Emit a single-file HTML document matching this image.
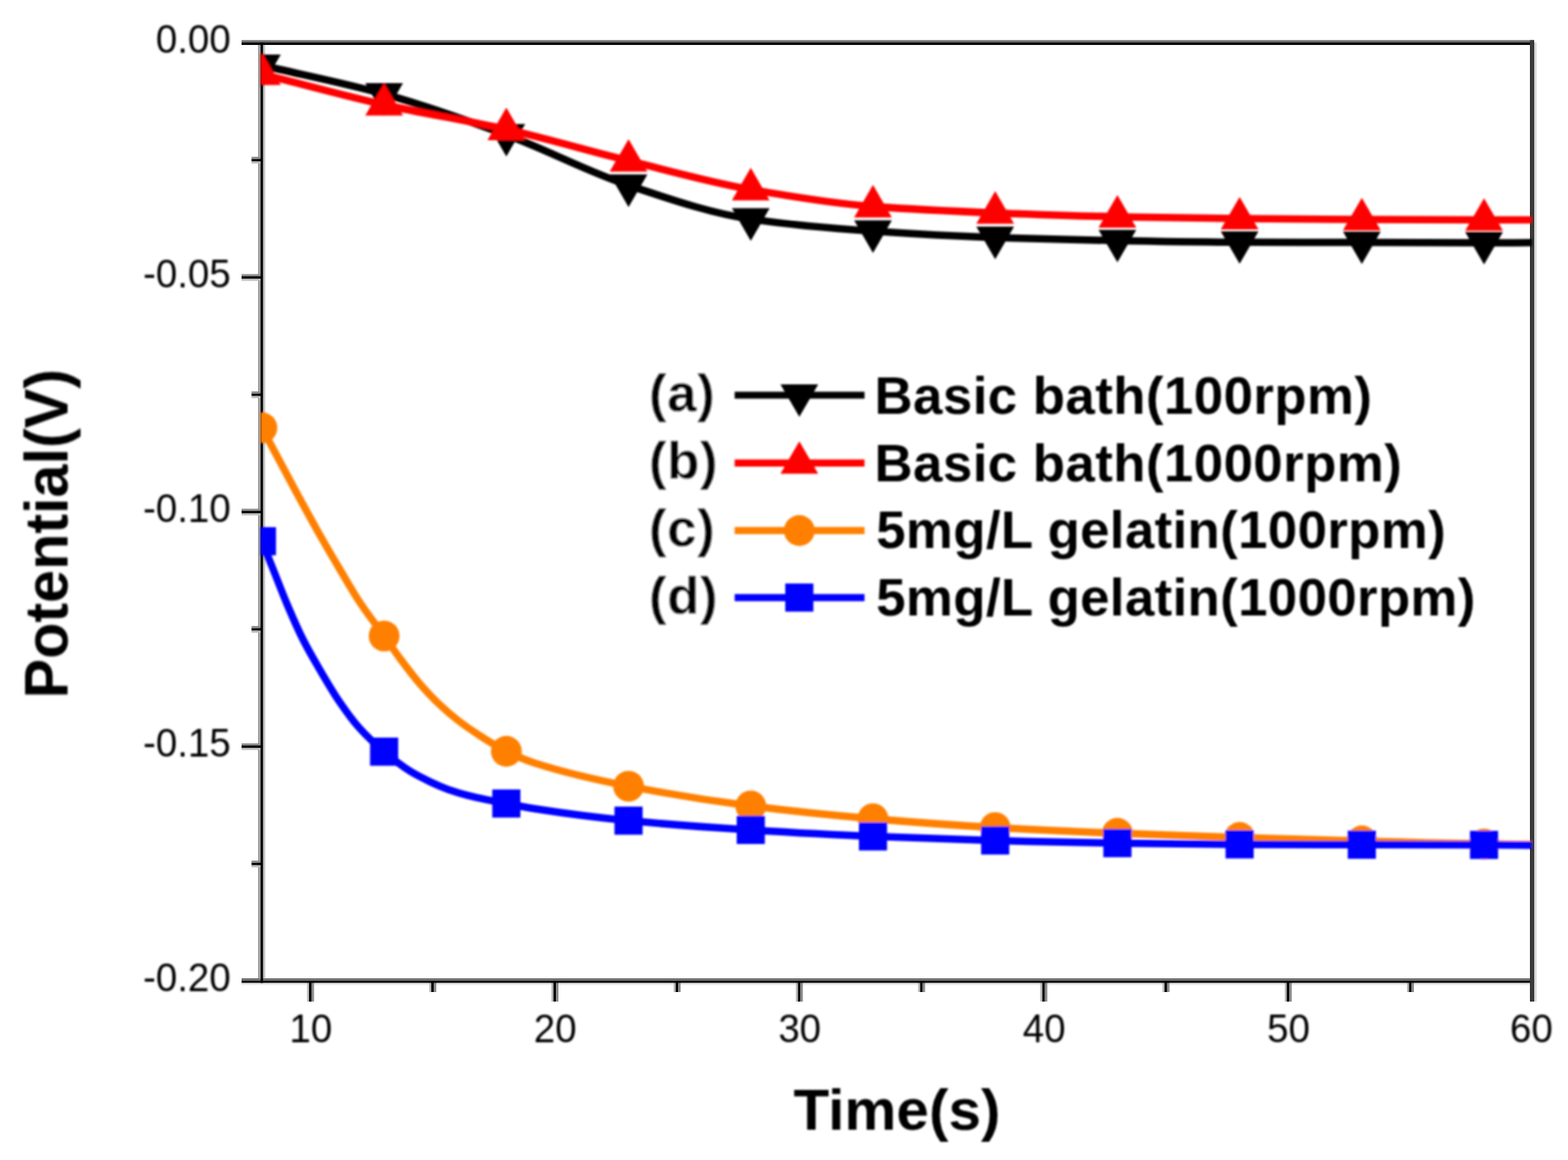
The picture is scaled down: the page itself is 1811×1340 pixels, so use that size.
<!DOCTYPE html>
<html lang="en">
<head>
<meta charset="utf-8">
<title>Potential vs Time</title>
<style>
html,body{margin:0;padding:0;background:#fff;}
body{width:1811px;height:1340px;overflow:hidden;position:relative;}
svg{display:block;position:absolute;left:0;top:0;}
text{font-family:"Liberation Sans",sans-serif;fill:#000;}
.tick{font-size:45.6px;}
.title{font-size:67.5px;font-weight:bold;}
.leg{font-size:61px;font-weight:bold;letter-spacing:0.5px;}
.key{font-size:61px;font-weight:bold;stroke:#fff;stroke-width:0.35px;stroke-linejoin:round;letter-spacing:0.7px;}
</style>
</head>
<body>
<svg width="1811" height="1340" viewBox="0 0 1811 1340">
<defs>
<clipPath id="plotclip"><rect x="301" y="47" width="1468.3" height="1086"/></clipPath>
<filter id="softt" x="-5%" y="-30%" width="110%" height="160%"><feGaussianBlur stdDeviation="0.9"/></filter>
<filter id="soft" x="-2%" y="-2%" width="104%" height="104%"><feGaussianBlur stdDeviation="1.1"/></filter>
</defs>
<rect x="0" y="0" width="1811" height="1340" fill="#ffffff"/>

<g shape-rendering="geometricPrecision">
<rect x="279.00" y="46.40" width="1493.00" height="2.70" fill="#6e6e6e"/>
<rect x="279.00" y="1130.10" width="1493.00" height="2.90" fill="#6e6e6e"/>
<rect x="279.00" y="1135.40" width="1488.00" height="2.60" fill="#ebebeb"/>
<rect x="298.00" y="51.90" width="3.00" height="1078.20" fill="#a0a0a0"/>
<rect x="303.80" y="51.90" width="2.50" height="1078.20" fill="#c2c2c2"/>
<rect x="1772.00" y="49.00" width="2.60" height="1108.00" fill="#d6d6d6"/>
<rect x="279.00" y="316.65" width="22.00" height="2.50" fill="#8c8c8c"/>
<rect x="279.00" y="321.85" width="22.00" height="2.50" fill="#bcbcbc"/>
<rect x="279.00" y="587.65" width="22.00" height="2.50" fill="#8c8c8c"/>
<rect x="279.00" y="592.85" width="22.00" height="2.50" fill="#bcbcbc"/>
<rect x="279.00" y="858.65" width="22.00" height="2.50" fill="#8c8c8c"/>
<rect x="279.00" y="863.85" width="22.00" height="2.50" fill="#bcbcbc"/>
<rect x="290.50" y="181.15" width="10.50" height="2.50" fill="#8c8c8c"/>
<rect x="290.50" y="186.35" width="10.50" height="2.50" fill="#bcbcbc"/>
<rect x="290.50" y="452.15" width="10.50" height="2.50" fill="#8c8c8c"/>
<rect x="290.50" y="457.35" width="10.50" height="2.50" fill="#bcbcbc"/>
<rect x="290.50" y="723.15" width="10.50" height="2.50" fill="#8c8c8c"/>
<rect x="290.50" y="728.35" width="10.50" height="2.50" fill="#bcbcbc"/>
<rect x="290.50" y="994.15" width="10.50" height="2.50" fill="#8c8c8c"/>
<rect x="290.50" y="999.35" width="10.50" height="2.50" fill="#bcbcbc"/>
<rect x="354.66" y="1135.00" width="2.30" height="22.00" fill="#b8b8b8"/>
<rect x="359.76" y="1135.00" width="2.90" height="22.00" fill="#8a8a8a"/>
<rect x="636.97" y="1135.00" width="2.30" height="22.00" fill="#b8b8b8"/>
<rect x="642.07" y="1135.00" width="2.90" height="22.00" fill="#8a8a8a"/>
<rect x="919.28" y="1135.00" width="2.30" height="22.00" fill="#b8b8b8"/>
<rect x="924.38" y="1135.00" width="2.90" height="22.00" fill="#8a8a8a"/>
<rect x="1201.58" y="1135.00" width="2.30" height="22.00" fill="#b8b8b8"/>
<rect x="1206.68" y="1135.00" width="2.90" height="22.00" fill="#8a8a8a"/>
<rect x="1483.89" y="1135.00" width="2.30" height="22.00" fill="#b8b8b8"/>
<rect x="1488.99" y="1135.00" width="2.90" height="22.00" fill="#8a8a8a"/>
<rect x="495.82" y="1135.00" width="2.30" height="11.00" fill="#b8b8b8"/>
<rect x="500.92" y="1135.00" width="2.90" height="11.00" fill="#8a8a8a"/>
<rect x="778.12" y="1135.00" width="2.30" height="11.00" fill="#b8b8b8"/>
<rect x="783.22" y="1135.00" width="2.90" height="11.00" fill="#8a8a8a"/>
<rect x="1060.43" y="1135.00" width="2.30" height="11.00" fill="#b8b8b8"/>
<rect x="1065.53" y="1135.00" width="2.90" height="11.00" fill="#8a8a8a"/>
<rect x="1342.74" y="1135.00" width="2.30" height="11.00" fill="#b8b8b8"/>
<rect x="1347.84" y="1135.00" width="2.90" height="11.00" fill="#8a8a8a"/>
<rect x="1625.05" y="1135.00" width="2.30" height="11.00" fill="#b8b8b8"/>
<rect x="1630.15" y="1135.00" width="2.90" height="11.00" fill="#8a8a8a"/>
<rect x="279.00" y="49.10" width="1493.00" height="2.80" fill="#000000"/>
<rect x="279.00" y="1133.00" width="1493.00" height="2.40" fill="#000000"/>
<rect x="301.00" y="49.10" width="2.80" height="1086.30" fill="#000000"/>
<rect x="1767.00" y="46.40" width="5.00" height="1110.60" fill="#3a3a3a"/>
<rect x="279.00" y="319.15" width="22.00" height="2.70" fill="#000000"/>
<rect x="279.00" y="590.15" width="22.00" height="2.70" fill="#000000"/>
<rect x="279.00" y="861.15" width="22.00" height="2.70" fill="#000000"/>
<rect x="290.50" y="183.65" width="10.50" height="2.70" fill="#000000"/>
<rect x="290.50" y="454.65" width="10.50" height="2.70" fill="#000000"/>
<rect x="290.50" y="725.65" width="10.50" height="2.70" fill="#000000"/>
<rect x="290.50" y="996.65" width="10.50" height="2.70" fill="#000000"/>
<rect x="356.96" y="1135.00" width="2.80" height="22.00" fill="#000000"/>
<rect x="639.27" y="1135.00" width="2.80" height="22.00" fill="#000000"/>
<rect x="921.58" y="1135.00" width="2.80" height="22.00" fill="#000000"/>
<rect x="1203.88" y="1135.00" width="2.80" height="22.00" fill="#000000"/>
<rect x="1486.19" y="1135.00" width="2.80" height="22.00" fill="#000000"/>
<rect x="498.12" y="1135.00" width="2.80" height="11.00" fill="#000000"/>
<rect x="780.42" y="1135.00" width="2.80" height="11.00" fill="#000000"/>
<rect x="1062.73" y="1135.00" width="2.80" height="11.00" fill="#000000"/>
<rect x="1345.04" y="1135.00" width="2.80" height="11.00" fill="#000000"/>
<rect x="1627.35" y="1135.00" width="2.80" height="11.00" fill="#000000"/>
</g>
<g filter="url(#soft)">
<g clip-path="url(#plotclip)">
<path d="M302.50,75.50 C349.55,86.53 396.60,95.63 443.65,108.60 C490.71,121.57 537.76,138.41 584.81,155.80 C631.86,173.19 678.91,198.52 725.96,214.10 C773.01,229.68 820.06,246.23 867.12,253.10 C914.17,259.97 961.22,263.90 1008.27,267.10 C1055.32,270.30 1102.37,272.79 1149.42,274.40 C1196.47,276.01 1243.53,277.20 1290.58,278.00 C1337.63,278.80 1384.68,279.68 1431.73,279.80 C1478.78,279.92 1525.83,279.90 1572.88,280.00 C1619.94,280.10 1666.99,280.50 1714.04,280.50 C1732.86,280.50 1751.68,280.37 1770.50,280.30" fill="none" stroke="#000000" stroke-width="8.5" stroke-linejoin="round"/>
<path d="M280.70,62.97 L324.30,62.97 L302.50,100.57 Z" fill="#000000"/>
<path d="M421.85,96.07 L465.45,96.07 L443.65,133.67 Z" fill="#000000"/>
<path d="M563.01,143.27 L606.61,143.27 L584.81,180.87 Z" fill="#000000"/>
<path d="M704.16,201.57 L747.76,201.57 L725.96,239.17 Z" fill="#000000"/>
<path d="M845.32,240.57 L888.92,240.57 L867.12,278.17 Z" fill="#000000"/>
<path d="M986.47,254.57 L1030.07,254.57 L1008.27,292.17 Z" fill="#000000"/>
<path d="M1127.62,261.87 L1171.22,261.87 L1149.42,299.47 Z" fill="#000000"/>
<path d="M1268.78,265.47 L1312.38,265.47 L1290.58,303.07 Z" fill="#000000"/>
<path d="M1409.93,267.27 L1453.53,267.27 L1431.73,304.87 Z" fill="#000000"/>
<path d="M1551.08,267.47 L1594.68,267.47 L1572.88,305.07 Z" fill="#000000"/>
<path d="M1692.24,267.97 L1735.84,267.97 L1714.04,305.57 Z" fill="#000000"/>
<path d="M302.50,85.60 C349.55,97.40 396.60,110.49 443.65,121.00 C490.71,131.51 537.76,138.78 584.81,149.40 C631.86,160.02 678.91,174.14 725.96,185.70 C773.01,197.26 820.06,210.66 867.12,218.90 C914.17,227.14 961.22,235.05 1008.27,238.60 C1055.32,242.15 1102.37,244.04 1149.42,245.90 C1196.47,247.76 1243.53,249.45 1290.58,250.40 C1337.63,251.35 1384.68,252.05 1431.73,252.50 C1478.78,252.95 1525.83,253.28 1572.88,253.50 C1619.94,253.72 1666.99,254.00 1714.04,254.00 C1732.86,254.00 1751.68,254.00 1770.50,254.00" fill="none" stroke="#ff0000" stroke-width="8.5" stroke-linejoin="round"/>
<path d="M280.70,98.13 L324.30,98.13 L302.50,60.53 Z" fill="#ff0000"/>
<path d="M421.85,133.53 L465.45,133.53 L443.65,95.93 Z" fill="#ff0000"/>
<path d="M563.01,161.93 L606.61,161.93 L584.81,124.33 Z" fill="#ff0000"/>
<path d="M704.16,198.23 L747.76,198.23 L725.96,160.63 Z" fill="#ff0000"/>
<path d="M845.32,231.43 L888.92,231.43 L867.12,193.83 Z" fill="#ff0000"/>
<path d="M986.47,251.13 L1030.07,251.13 L1008.27,213.53 Z" fill="#ff0000"/>
<path d="M1127.62,258.43 L1171.22,258.43 L1149.42,220.83 Z" fill="#ff0000"/>
<path d="M1268.78,262.93 L1312.38,262.93 L1290.58,225.33 Z" fill="#ff0000"/>
<path d="M1409.93,265.03 L1453.53,265.03 L1431.73,227.43 Z" fill="#ff0000"/>
<path d="M1551.08,266.03 L1594.68,266.03 L1572.88,228.43 Z" fill="#ff0000"/>
<path d="M1692.24,266.53 L1735.84,266.53 L1714.04,228.93 Z" fill="#ff0000"/>
<path d="M302.50,494.10 C313.67,515.07 324.83,536.34 336.00,557.00 C347.33,577.97 358.67,598.99 370.00,619.00 C377.47,632.19 384.93,644.92 392.40,657.50 C400.17,670.59 407.93,684.27 415.70,696.00 C425.02,710.08 434.34,721.68 443.65,734.70 C450.14,743.76 456.62,753.43 463.10,762.10 C470.47,771.96 477.83,781.71 485.20,790.20 C492.57,798.69 499.93,806.52 507.30,813.50 C514.67,820.48 522.03,826.81 529.40,832.50 C536.77,838.19 544.13,843.22 551.50,848.00 C562.60,855.20 573.71,862.48 584.81,867.90 C595.77,873.26 606.74,877.95 617.70,881.50 C653.79,893.17 689.87,901.09 725.96,908.20 C773.01,917.47 820.06,925.02 867.12,931.00 C914.17,936.98 961.22,941.77 1008.27,945.80 C1055.32,949.83 1102.37,953.33 1149.42,956.00 C1196.47,958.67 1243.53,960.75 1290.58,962.60 C1337.63,964.45 1384.68,965.95 1431.73,967.40 C1478.78,968.85 1525.83,970.14 1572.88,971.40 C1619.94,972.66 1666.99,974.42 1714.04,975.00 C1732.86,975.23 1751.68,975.33 1770.50,975.50" fill="none" stroke="#ff8000" stroke-width="8.5" stroke-linejoin="round"/>
<circle cx="302.50" cy="494.10" r="17.8" fill="#ff8000"/>
<circle cx="443.65" cy="734.70" r="17.8" fill="#ff8000"/>
<circle cx="584.81" cy="867.90" r="17.8" fill="#ff8000"/>
<circle cx="725.96" cy="908.20" r="17.8" fill="#ff8000"/>
<circle cx="867.12" cy="931.00" r="17.8" fill="#ff8000"/>
<circle cx="1008.27" cy="945.80" r="17.8" fill="#ff8000"/>
<circle cx="1149.42" cy="956.00" r="17.8" fill="#ff8000"/>
<circle cx="1290.58" cy="962.60" r="17.8" fill="#ff8000"/>
<circle cx="1431.73" cy="967.40" r="17.8" fill="#ff8000"/>
<circle cx="1572.88" cy="971.40" r="17.8" fill="#ff8000"/>
<circle cx="1714.04" cy="975.00" r="17.8" fill="#ff8000"/>
<path d="M302.50,625.20 C307.10,636.73 311.70,648.29 316.30,659.80 C321.60,673.06 326.90,687.05 332.20,699.50 C338.00,713.12 343.80,726.47 349.60,738.00 C357.40,753.50 365.20,766.57 373.00,779.80 C379.13,790.20 385.27,800.60 391.40,809.60 C398.87,820.56 406.33,831.07 413.80,839.50 C423.75,850.73 433.70,859.90 443.65,868.30 C453.84,876.89 464.02,884.97 474.20,891.20 C481.57,895.71 488.93,899.33 496.30,902.80 C503.63,906.25 510.97,909.62 518.30,912.20 C525.67,914.79 533.03,916.90 540.40,918.80 C547.77,920.70 555.13,922.25 562.50,923.80 C569.94,925.37 577.37,926.78 584.81,928.20 C595.77,930.30 606.74,932.59 617.70,934.30 C653.79,939.92 689.87,944.54 725.96,948.00 C773.01,952.51 820.06,955.76 867.12,958.70 C914.17,961.64 961.22,964.27 1008.27,966.20 C1055.32,968.13 1102.37,969.65 1149.42,970.90 C1196.47,972.15 1243.53,973.36 1290.58,974.00 C1337.63,974.64 1384.68,975.19 1431.73,975.40 C1478.78,975.61 1525.83,975.71 1572.88,975.80 C1619.94,975.89 1666.99,975.87 1714.04,976.00 C1732.86,976.05 1751.68,976.33 1770.50,976.50" fill="none" stroke="#0000ff" stroke-width="8.5" stroke-linejoin="round"/>
<rect x="286.25" y="608.95" width="32.5" height="32.5" fill="#0000ff"/>
<rect x="427.40" y="852.05" width="32.5" height="32.5" fill="#0000ff"/>
<rect x="568.56" y="911.95" width="32.5" height="32.5" fill="#0000ff"/>
<rect x="709.71" y="931.75" width="32.5" height="32.5" fill="#0000ff"/>
<rect x="850.87" y="942.45" width="32.5" height="32.5" fill="#0000ff"/>
<rect x="992.02" y="949.95" width="32.5" height="32.5" fill="#0000ff"/>
<rect x="1133.17" y="954.65" width="32.5" height="32.5" fill="#0000ff"/>
<rect x="1274.33" y="957.75" width="32.5" height="32.5" fill="#0000ff"/>
<rect x="1415.48" y="959.15" width="32.5" height="32.5" fill="#0000ff"/>
<rect x="1556.63" y="959.55" width="32.5" height="32.5" fill="#0000ff"/>
<rect x="1697.79" y="959.75" width="32.5" height="32.5" fill="#0000ff"/>
</g>
<line x1="848.5" y1="456.5" x2="998.5" y2="456.5" stroke="#000000" stroke-width="8.2" stroke-linecap="butt"/>
<path d="M901.40,443.97 L945.00,443.97 L923.20,481.57 Z" fill="#000000"/>
<line x1="848.5" y1="534.8" x2="998.5" y2="534.8" stroke="#ff0000" stroke-width="8.2" stroke-linecap="butt"/>
<path d="M901.40,547.33 L945.00,547.33 L923.20,509.73 Z" fill="#ff0000"/>
<line x1="848.5" y1="612.9" x2="998.5" y2="612.9" stroke="#ff8000" stroke-width="8.2" stroke-linecap="butt"/>
<circle cx="923.20" cy="612.90" r="17.8" fill="#ff8000"/>
<line x1="848.5" y1="690.3" x2="998.5" y2="690.3" stroke="#0000ff" stroke-width="8.2" stroke-linecap="butt"/>
<rect x="906.95" y="674.05" width="32.5" height="32.5" fill="#0000ff"/>
</g>
<g>
<text filter="url(#softt)" class="tick" transform="translate(266.5,60.8) scale(0.975,1)" text-anchor="end">0.00</text>
<text filter="url(#softt)" class="tick" transform="translate(266.5,331.8) scale(0.975,1)" text-anchor="end">-0.05</text>
<text filter="url(#softt)" class="tick" transform="translate(266.5,602.8) scale(0.975,1)" text-anchor="end">-0.10</text>
<text filter="url(#softt)" class="tick" transform="translate(266.5,873.8) scale(0.975,1)" text-anchor="end">-0.15</text>
<text filter="url(#softt)" class="tick" transform="translate(266.5,1144.8) scale(0.975,1)" text-anchor="end">-0.20</text>
<text filter="url(#softt)" class="tick" transform="translate(359.0,1204.3) scale(0.975,1)" text-anchor="middle">10</text>
<text filter="url(#softt)" class="tick" transform="translate(641.3,1204.3) scale(0.975,1)" text-anchor="middle">20</text>
<text filter="url(#softt)" class="tick" transform="translate(923.6,1204.3) scale(0.975,1)" text-anchor="middle">30</text>
<text filter="url(#softt)" class="tick" transform="translate(1205.9,1204.3) scale(0.975,1)" text-anchor="middle">40</text>
<text filter="url(#softt)" class="tick" transform="translate(1488.2,1204.3) scale(0.975,1)" text-anchor="middle">50</text>
<text filter="url(#softt)" class="tick" transform="translate(1768.7,1204.3) scale(0.975,1)" text-anchor="middle">60</text>
<text filter="url(#softt)" class="title" x="1036" y="1304.5" text-anchor="middle">Time(s)</text>
<text filter="url(#softt)" class="title" style="font-size:68.5px" transform="translate(78,616.5) rotate(-90) scale(1,1.035)" text-anchor="middle">Potential(V)</text>
<text filter="url(#softt)" class="key" x="749.5" y="475.1">(a)</text>
<text filter="url(#softt)" class="leg" x="1010.0" y="477.6">Basic bath(100rpm)</text>
<text filter="url(#softt)" class="key" x="749.5" y="553.0">(b)</text>
<text filter="url(#softt)" class="leg" x="1010.0" y="555.5">Basic bath(1000rpm)</text>
<text filter="url(#softt)" class="key" x="749.5" y="630.7">(c)</text>
<text filter="url(#softt)" class="leg" style="letter-spacing:0.4px" x="1012.0" y="633.2">5mg/L gelatin(100rpm)</text>
<text filter="url(#softt)" class="key" x="749.5" y="708.5">(d)</text>
<text filter="url(#softt)" class="leg" style="letter-spacing:0.4px" x="1012.0" y="711.0">5mg/L gelatin(1000rpm)</text>
</g>
</svg>
</body>
</html>
